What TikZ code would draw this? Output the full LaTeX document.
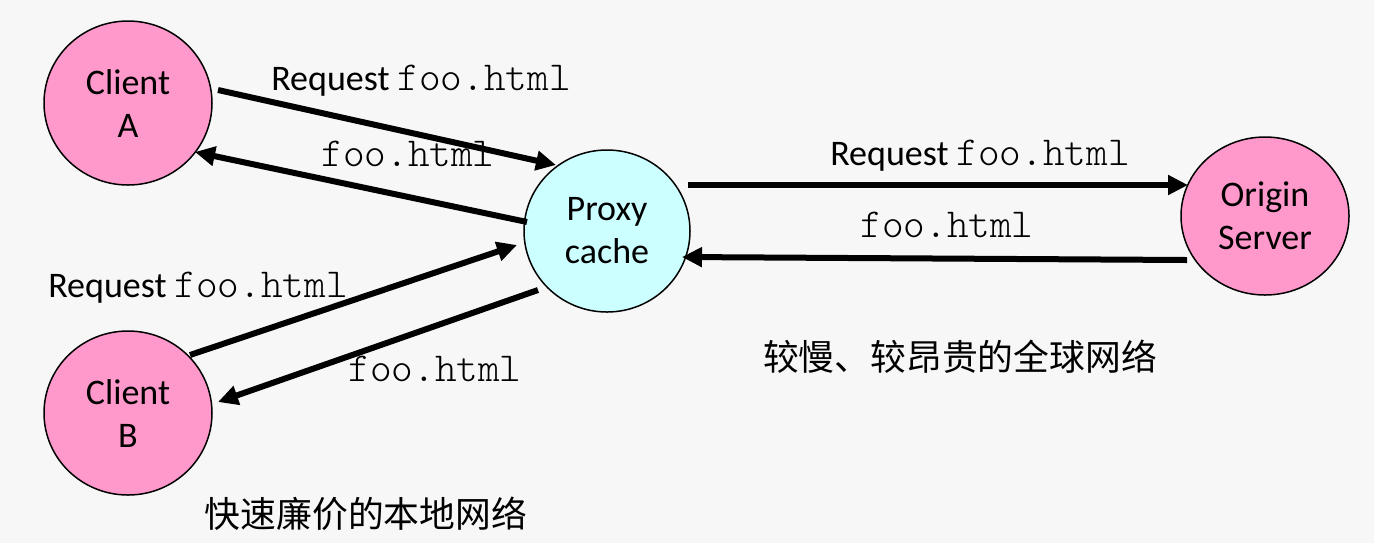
\documentclass[tikz,border=0pt]{standalone}
\usepackage{fontspec}
\setmainfont{Carlito}
\setmonofont{Latin Modern Mono Light}
\newfontfamily\cjk{Noto Sans CJK SC}
\usetikzlibrary{shapes.geometric,arrows.meta}
\definecolor{bgc}{HTML}{F7F7F7}
\definecolor{pinkc}{HTML}{FF99CC}
\definecolor{cyanc}{HTML}{CCFFFF}
\newcommand\fn{{\fontsize{20.6pt}{22pt}\ttfamily foo.html}}
\tikzset{
  host/.style={ellipse, draw=black, line width=0.75pt, inner sep=0pt,
    minimum width=84pt, minimum height=82pt, align=center,
    font=\fontsize{18pt}{21.5pt}\selectfont},
  client/.style={host, fill=pinkc},
  proxy/.style={host, fill=cyanc, minimum width=83pt, minimum height=81pt},
  arr/.style={line width=3pt, -{Triangle[length=10pt,width=9.5pt]}},
  lbl/.style={anchor=base, inner sep=0pt, font=\fontsize{18pt}{21.5pt}\selectfont},
  cn/.style={anchor=base, inner sep=0pt, font=\fontsize{17.9pt}{21.5pt}\cjk}
}
\begin{document}
\begin{tikzpicture}[x=0.5pt,y=-0.5pt]
\fill[bgc] (0,0) rectangle (1374,543);
\useasboundingbox (0,0) rectangle (1374,543);
\node[client] (A) at (128,103) {Client\\A};
\node[client] (B) at (128,413) {Client\\B};
\node[proxy] (P) at (607,231) {Proxy\\cache};
\node[client, minimum height=79pt] (O) at (1265,216) {Origin\\Server};
\draw[arr] ([shift={(90,-13)}]A.center) -- ([shift={(-51,-66)}]P.center);
\draw[arr] ([shift={(-80,-9)}]P.center) -- ([shift={(67,49)}]A.center);
\draw[arr] ([shift={(62,-58)}]B.center) -- ([shift={(-90,14)}]P.center);
\draw[arr] ([shift={(-69,59)}]P.center) -- ([shift={(90,-11)}]B.center);
\draw[arr] ([shift={(81,-46)}]P.center) -- ([shift={(-77,-31)}]O.center);
\draw[arr] ([shift={(-78,44)}]O.center) -- ([shift={(75,26)}]P.center);
\node[lbl] (l1) at (421,90) {Request \fn};
\node[lbl] (l2) at (408,166) {\fn};
\node[lbl] (l3) at (198,297) {Request \fn};
\node[lbl] (l4) at (435,381) {\fn};
\node[lbl] (l5) at (980,165) {Request \fn};
\node[lbl] (l6) at (947,237) {\fn};
\node[cn] (c1) at (960,370) {较慢、较昂贵的全球网络};
\node[cn] (c2) at (366,527) {快速廉价的本地网络};
\end{tikzpicture}
\end{document}
